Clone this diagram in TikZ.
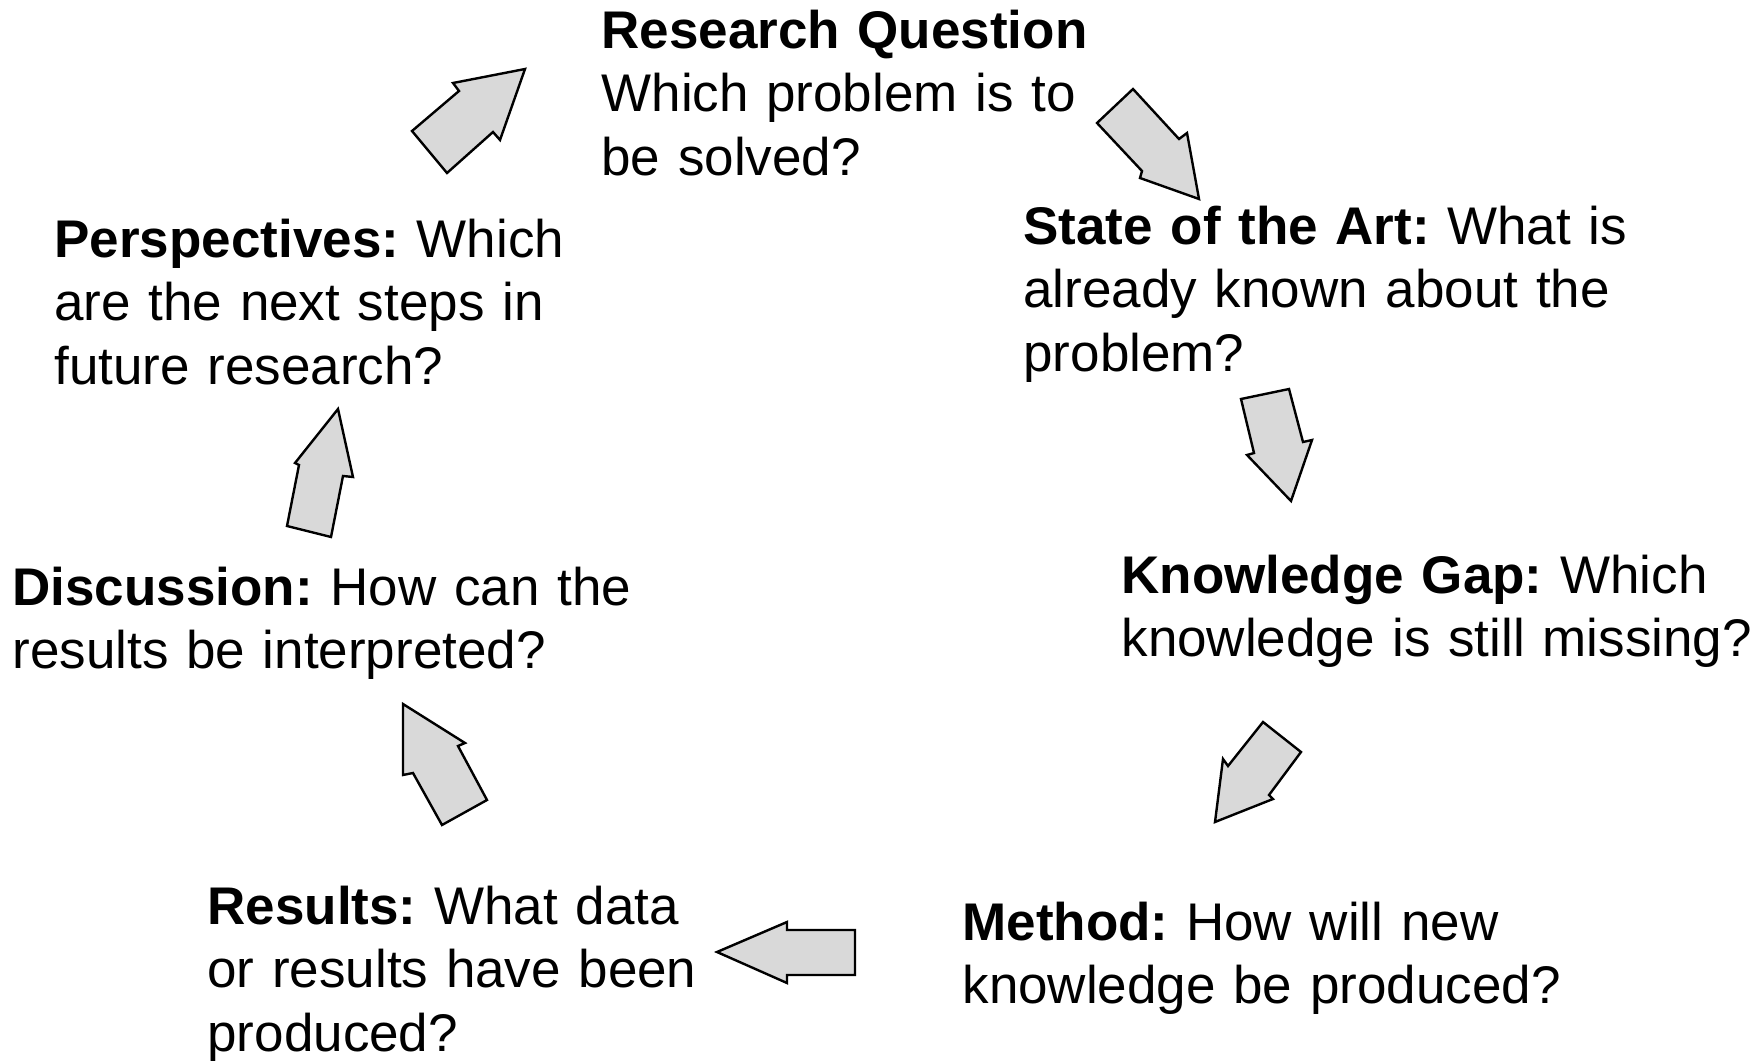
\documentclass[tikz,border=0pt]{standalone}
\usepackage{fontspec}
\setmainfont{Liberation Sans}
\frenchspacing
\begin{document}
\begin{tikzpicture}[x=0.5pt,y=-0.5pt,
  txt/.style={inner sep=0pt, outer sep=0pt, text width=340pt, align=left,
    font=\fontsize{26.5}{31.75}\selectfont\frenchspacing},
  blockarrow/.style={draw=black, fill=arrowgray, line width=1.2pt, line join=miter}]
\definecolor{arrowgray}{HTML}{D9D9D9}
\useasboundingbox[fill=white] (0,0) rectangle (1761,1060);

% texts
\node[txt, anchor=base west] (rq) at (601.5,48) {\textbf{Research Question}\\Which problem is to\\be solved?};
\node[txt, anchor=base west] (sota) at (1023.5,244) {\textbf{State of the Art:} What is\\already known about the\\problem?};
\node[txt, anchor=base west] (gap) at (1121.5,593) {\textbf{Knowledge Gap:} Which\\knowledge is still missing?};
\node[txt, anchor=base west] (meth) at (962.5,940) {\textbf{Method:} How will new\\knowledge be produced?};
\node[txt, anchor=base west] (res) at (207.5,924) {\textbf{Results:} What data\\or results have been\\produced?};
\node[txt, anchor=base west] (disc) at (12.5,605) {\textbf{Discussion:} How can the\\results be interpreted?};
\node[txt, anchor=base west] (persp) at (54.5,257) {\textbf{Perspectives:} Which\\are the next steps in\\future research?};

% block arrows
\draw[blockarrow] (525,69) -- (453,83) -- (459,91) -- (412,131) -- (447,173) -- (493,132) -- (500,140) -- cycle;
\draw[blockarrow] (1199,199) -- (1140,178) -- (1142,171) -- (1097,123) -- (1133,89) -- (1179,139) -- (1187,133) -- cycle;
\draw[blockarrow] (1291,501) -- (1247,455) -- (1254,453) -- (1241,399) -- (1289,389) -- (1303,442) -- (1312,440) -- cycle;
\draw[blockarrow] (1215,822) -- (1223,759) -- (1228,766) -- (1263,722) -- (1301,752) -- (1269,795) -- (1273,799) -- cycle;
\draw[blockarrow] (717,952) -- (787,922) -- (787,930) -- (855,930) -- (855,975) -- (787,975) -- (787,983) -- cycle;
\draw[blockarrow] (403,704) -- (465,743) -- (458,746) -- (487,800) -- (442,825) -- (413,773) -- (403,775) -- cycle;
\draw[blockarrow] (338,409) -- (353,477) -- (343,476) -- (331,537) -- (287,526) -- (299,465) -- (295,463) -- cycle;
\end{tikzpicture}
\end{document}
